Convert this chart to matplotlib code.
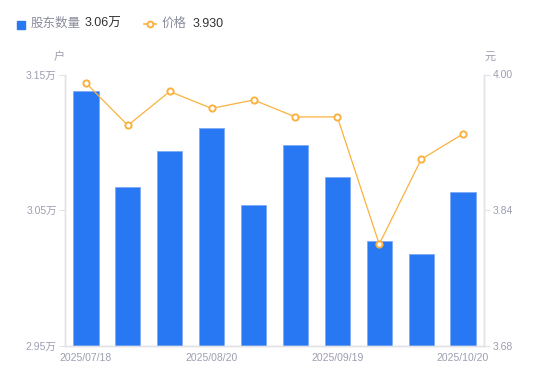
import numpy as np
import matplotlib
matplotlib.use("Agg")
import matplotlib.pyplot as plt
from matplotlib.lines import Line2D
from matplotlib.patches import Rectangle

plt.rcParams['font.family'] = ['Liberation Sans', 'Noto Sans CJK SC', 'DejaVu Sans']

# data
holders = [3.1378, 3.0669, 3.0934, 3.1106, 3.0536, 3.0978, 3.0745, 3.0276, 3.0175, 3.0632]  # 万户
price = [3.99, 3.94, 3.98, 3.96, 3.97, 3.95, 3.95, 3.80, 3.90, 3.93]
date_ticks = [0, 3, 6, 9]
date_labels = ["2025/07/18", "2025/08/20", "2025/09/19", "2025/10/20"]
left_ticks = [2.95, 3.05, 3.15]
left_labels = ["2.95万", "3.05万", "3.15万"]
right_ticks = [3.68, 3.84, 4.00]
right_labels = ["3.68", "3.84", "4.00"]

blue = "#2878f4"
orange = "#f9b23f"
grey_txt = "#9c9eb0"
axis_col = "#e3e3e6"

fig = plt.figure(figsize=(5.5, 3.81), dpi=100)
ax = fig.add_axes([65 / 550, 1 - 346 / 381, 419 / 550, 271.5 / 381])
x = np.arange(len(holders))
ax.bar(x, holders, width=0.6, color=blue, edgecolor="#7eaaf6", linewidth=0.6, zorder=2)
ax.set_xlim(-0.5, len(holders) - 0.5)
ax.set_ylim(2.95, 3.15)
ax.set_yticks(left_ticks)
ax.set_yticklabels(left_labels)
ax.set_xticks(date_ticks)
ax.set_xticklabels(date_labels)

ax2 = ax.twinx()
ax2.plot(x, price, color=orange, lw=0.9, marker="o", ms=4.5, mfc="white",
         mec=orange, mew=1.4, zorder=3)
ax2.set_ylim(3.68, 4.00)
ax2.set_yticks(right_ticks)
ax2.set_yticklabels(right_labels)

for a in (ax, ax2):
    a.spines["top"].set_visible(False)
    for s in ("left", "right", "bottom"):
        a.spines[s].set_color(axis_col)
        a.spines[s].set_linewidth(1)
    a.tick_params(colors=grey_txt, labelsize=7.5, length=4, width=0.8)
    a.tick_params(axis="y", color=axis_col)
ax.tick_params(axis="x", length=0, pad=5)
ax.tick_params(axis="y", pad=2)
ax2.tick_params(axis="y", pad=2)

fig.text(59 / 550, 1 - 57 / 381, "户", color=grey_txt, fontsize=8, ha="center", va="center")
fig.text(490 / 550, 1 - 57 / 381, "元", color=grey_txt, fontsize=8, ha="center", va="center")

# legend row
fig.patches.append(Rectangle((17 / 550, 1 - 28.5 / 381), 8 / 550, 8 / 381, transform=fig.transFigure,
                             color=blue, figure=fig))
fig.text(31 / 550, 1 - 24 / 381, "股东数量", color="#8a8c9c", fontsize=9, va="center")
fig.text(85 / 550, 1 - 24 / 381, "3.06万", color="#333333", fontsize=9, va="center")
fig.add_artist(Line2D([144 / 550, 156 / 550], [1 - 24 / 381, 1 - 24 / 381], transform=fig.transFigure,
                      color=orange, lw=1.2))
fig.add_artist(Line2D([150 / 550], [1 - 24 / 381], transform=fig.transFigure, marker="o", ms=4.2,
                      mfc="white", mec=orange, mew=1.4, lw=0))
fig.text(162 / 550, 1 - 24 / 381, "价格", color="#8a8c9c", fontsize=9, va="center")
fig.text(193 / 550, 1 - 24 / 381, "3.930", color="#333333", fontsize=9, va="center")

fig.savefig("out.png", dpi=100)
